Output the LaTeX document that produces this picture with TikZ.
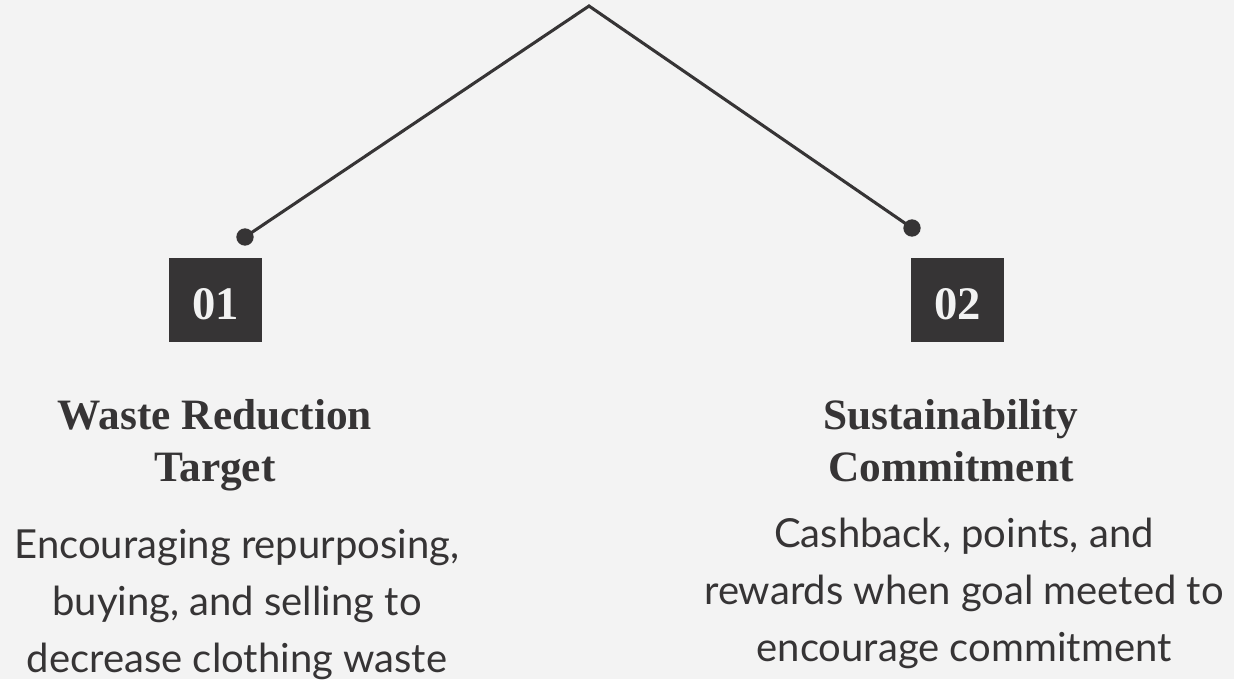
\documentclass[tikz,border=0pt]{standalone}
\usepackage{fontspec}
\setmainfont{Liberation Serif}
\newfontfamily\bodyfont{Lato}
\definecolor{bg}{HTML}{F3F3F3}
\definecolor{ink}{HTML}{363435}
\definecolor{numtxt}{HTML}{F2F2F2}
\tikzset{
  numbox/.style={fill=ink, inner sep=0pt, minimum width=69.75pt, minimum height=63pt,
    text=numtxt, font=\bfseries\fontsize{35pt}{40pt}\selectfont, text height=28.5pt, text depth=0pt},
  dotnode/.style={circle, fill=ink, inner sep=0pt, minimum size=13pt},
  link/.style={draw=ink, line width=2.3pt},
  titletxt/.style={anchor=base, inner sep=0pt, text=ink, font=\bfseries\fontsize{32.5pt}{38pt}\selectfont},
  bodytxt/.style={anchor=base, inner sep=0pt, text=ink, font=\bodyfont\fontsize{30pt}{36pt}\selectfont}
}
\begin{document}
\begin{tikzpicture}[x=0.75pt,y=-0.75pt]
\fill[bg] (0,0) rectangle (1234,679);
\useasboundingbox (0,0) rectangle (1234,679);

\coordinate (apex) at (589,6);
\node[dotnode] (d1) at (245,237) {};
\node[dotnode] (d2) at (912,228) {};
\draw[link, line join=miter] (d1.center) -- (apex) -- (d2.center);

\node[numbox] (b1) at (215.5,300) {01};
\node[numbox] (b2) at (957.5,300) {02};

\node[titletxt] (t1a) at (215,429) {Waste Reduction};
\node[titletxt] (t1b) at (215,481) {Target};
\node[titletxt] (t2a) at (951,429) {Sustainability};
\node[titletxt] (t2b) at (951,481) {Commitment};

\node[bodytxt] (p1a) at (237,558) {Encouraging repurposing,};
\node[bodytxt] (p1b) at (237,615) {buying, and selling to};
\node[bodytxt] (p1c) at (237,672) {decrease clothing waste};
\node[bodytxt] (p2a) at (964,547) {Cashback, points, and};
\node[bodytxt] (p2b) at (964,604) {rewards when goal meeted to};
\node[bodytxt] (p2c) at (964,661) {encourage commitment};
\end{tikzpicture}
\end{document}
